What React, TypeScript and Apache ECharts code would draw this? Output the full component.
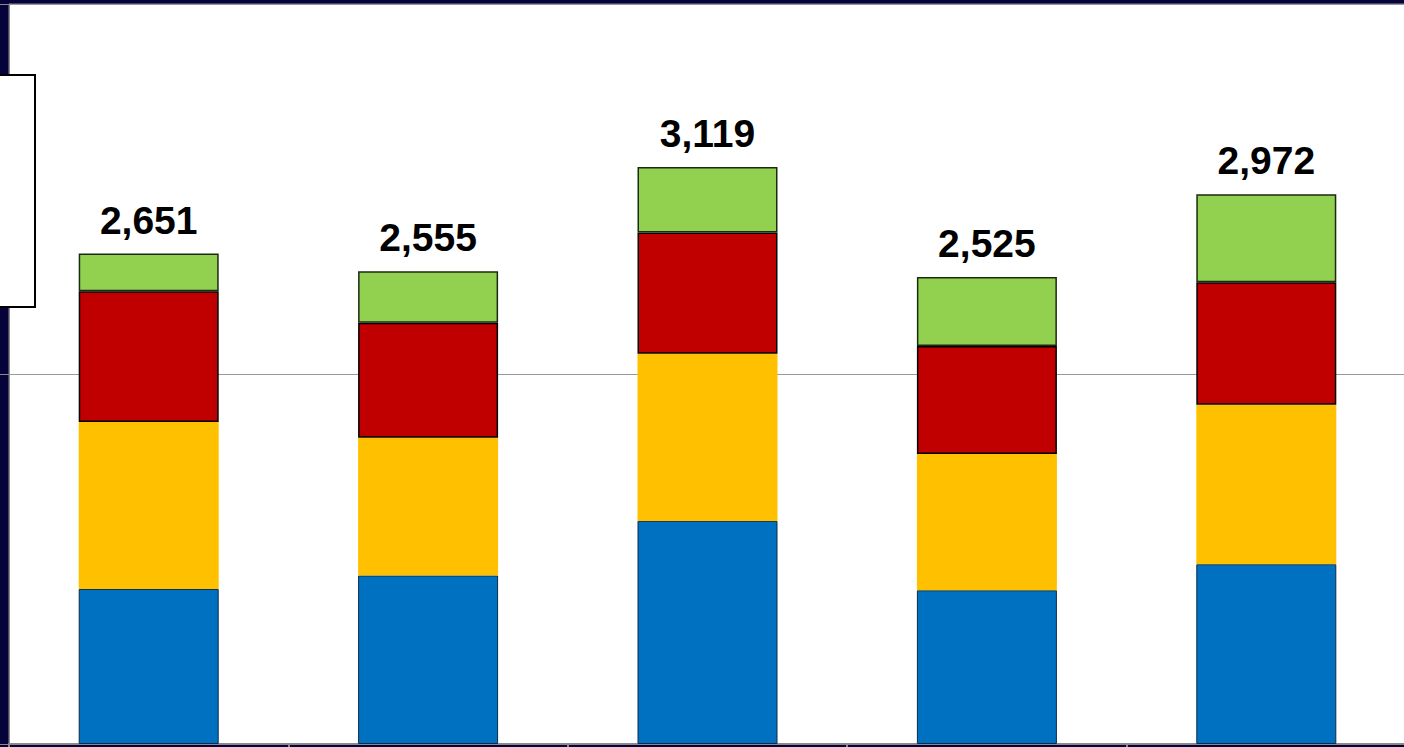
import React, { useEffect, useRef } from "react";
import * as echarts from "echarts";

const categories = ["1", "2", "3", "4", "5"];
const blueValues = [838, 911, 1206, 831, 972];
const yellowValues = [903, 744, 903, 737, 862];
const redValues = [706, 622, 656, 584, 662];
const greenValues = [204, 278, 354, 373, 476];
const totalValues = [2651, 2555, 3119, 2525, 2972];

const seriesNames = ["Series 1", "Series 2", "Series 3", "Series 4"];
const yTicks = { min: 0, max: 4000, interval: 2000 };

export default function App() {
  const ref = useRef<HTMLDivElement>(null);

  useEffect(() => {
    if (!ref.current) return;
    const chart = echarts.init(ref.current, null, { renderer: "svg" });
    const gray = "#8a8a8a";
    const barBase = { type: "bar" as const, stack: "total", barWidth: 140 };
    chart.setOption({
      animation: false,
      backgroundColor: "#05033A",
      grid: {
        left: 9,
        width: 1397,
        top: 4,
        bottom: 3,
        outerBoundsMode: "none",
        show: true,
        backgroundColor: "#ffffff",
        borderColor: gray,
        borderWidth: 1,
      },
      xAxis: {
        type: "category",
        data: categories,
        axisLabel: { show: false },
        axisLine: { show: true, lineStyle: { color: gray, width: 2 } },
        axisTick: { show: true, length: 4, lineStyle: { color: gray, width: 2 } },
      },
      yAxis: {
        type: "value",
        min: yTicks.min,
        max: yTicks.max,
        interval: yTicks.interval,
        axisLabel: { show: false },
        axisLine: { show: true, lineStyle: { color: gray, width: 1 } },
        axisTick: { show: true, length: 9, lineStyle: { color: gray } },
        splitLine: { show: true, lineStyle: { color: "#999999", width: 1 } },
      },
      series: [
        {
          ...barBase,
          name: seriesNames[0],
          data: blueValues,
          itemStyle: { color: "#0070C0", borderColor: "#0b2a4a", borderWidth: 1 },
        },
        {
          ...barBase,
          name: seriesNames[1],
          data: yellowValues,
          itemStyle: { color: "#FFC000", borderWidth: 0 },
        },
        {
          ...barBase,
          name: seriesNames[2],
          data: redValues,
          itemStyle: { color: "#C00000", borderColor: "#000000", borderWidth: 1.5 },
        },
        {
          ...barBase,
          name: seriesNames[3],
          data: greenValues,
          itemStyle: { color: "#92D050", borderColor: "#1a2a10", borderWidth: 1.5 },
          label: {
            show: true,
            position: "top",
            distance: 14,
            fontSize: 39,
            fontWeight: "bold",
            color: "#000000",
            fontFamily: "Liberation Sans, Arial, sans-serif",
            formatter: (p: any) => totalValues[p.dataIndex].toLocaleString("en-US"),
          },
        },
      ],
      graphic: [
        {
          type: "rect",
          z: 100,
          shape: { x: -10, y: 75, width: 45, height: 232 },
          style: { fill: "#ffffff", stroke: "#000000", lineWidth: 2 },
        },
      ],
    });
    return () => chart.dispose();
  }, []);

  return (
    <div
      ref={ref}
      style={{ position: "fixed", left: 0, top: 0, width: 1404, height: 747 }}
    />
  );
}
